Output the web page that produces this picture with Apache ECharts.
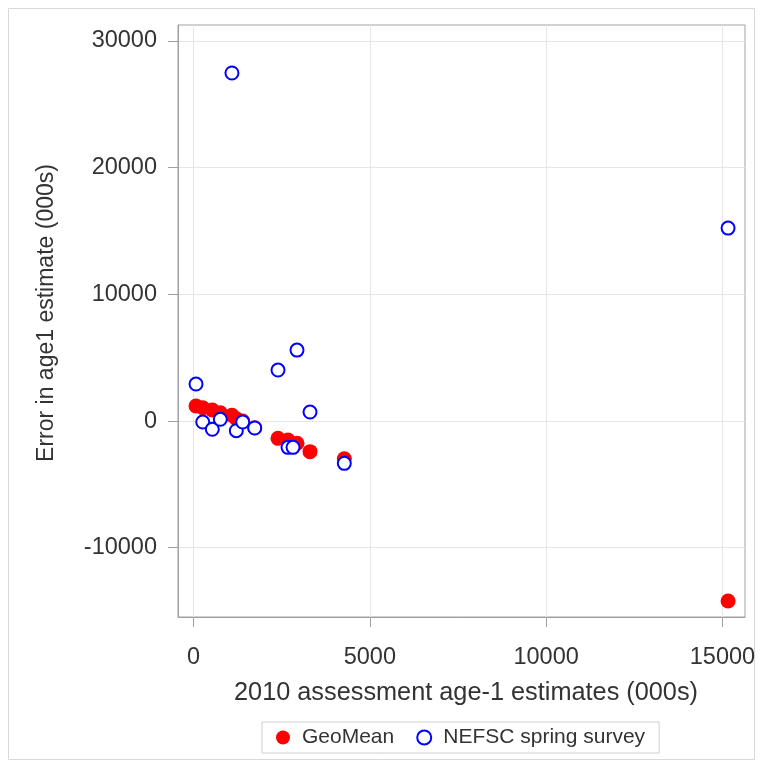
<!DOCTYPE html>
<html>
<head>
<meta charset="utf-8">
<script src="https://cdn.jsdelivr.net/npm/echarts@6/dist/echarts.min.js"></script>
<style>
  html, body { margin: 0; padding: 0; background: #fff; }
  #chart { width: 763px; height: 768px; }
</style>
</head>
<body>
<div id="chart"></div>
<script>
// 2010 assessment age-1 estimates (000s), one per year class
const assessmentAge1 = [71, 262, 533, 760, 1090, 1214, 1395, 1736, 2396, 2680, 2822, 2935, 3304, 4277, 15160];
// Error in age-1 estimate (000s) for each index
const geoMeanError = [1180, 1050, 870, 650, 450, 180, 0, -530, -1370, -1500, -2030, -1760, -2420, -2975, -14207];
const springSurveyError = [2920, -80, -655, 134, 27470, -766, -79, -552, 4025, -2080, -2080, 5600, 710, -3340, 15230];

const seriesNames = ['GeoMean', 'NEFSC spring survey'];
const xTicks = [0, 5000, 10000, 15000];
const yTicks = [-10000, 0, 10000, 20000, 30000];

const pairs = (ys) => assessmentAge1.map((x, i) => [x, ys[i]]);
const plain = (v) => String(v);

const font = 'Liberation Sans, Arial, sans-serif';
const textColor = '#333333';
const frameColor = '#9da1a5';
const gridColor = '#e6e6e6';

const chart = echarts.init(document.getElementById('chart'), null, { renderer: 'canvas' });

chart.setOption({
  animation: false,
  backgroundColor: '#ffffff',
  graphic: [{
    type: 'rect',
    shape: { x: 8.5, y: 8.5, width: 746, height: 751 },
    style: { fill: 'none', stroke: '#d9d9d9', lineWidth: 1 },
    silent: true,
    z: -10
  }],
  grid: {
    left: 178, right: 18, top: 25, bottom: 151,
    show: true, borderColor: frameColor, borderWidth: 1
  },
  xAxis: {
    type: 'value',
    min: -440, max: 15640,
    name: '2010 assessment age-1 estimates (000s)',
    nameLocation: 'middle',
    nameGap: 64,
    nameTextStyle: { fontFamily: font, fontSize: 25.3, color: textColor, padding: [0, 0, 0, 9] },
    axisLine: { show: true, onZero: false, lineStyle: { color: frameColor } },
    axisTick: { show: true, length: 10, customValues: xTicks, lineStyle: { color: frameColor } },
    axisLabel: { customValues: xTicks, formatter: plain, margin: 29, fontFamily: font, fontSize: 23.5, color: textColor },
    splitLine: { show: true, lineStyle: { color: gridColor, width: 1 } }
  },
  yAxis: {
    type: 'value',
    min: -15470, max: 31260,
    name: 'Error in age1 estimate (000s)',
    nameLocation: 'middle',
    nameGap: 120,
    nameTextStyle: { fontFamily: font, fontSize: 23, color: textColor, padding: [0, 0, 0, 16] },
    axisLine: { show: true, onZero: false, lineStyle: { color: frameColor } },
    axisTick: { show: true, length: 10, customValues: yTicks, lineStyle: { color: frameColor } },
    axisLabel: { customValues: yTicks, formatter: plain, margin: 21, fontFamily: font, fontSize: 23.5, color: textColor },
    splitLine: { show: true, lineStyle: { color: gridColor, width: 1 } }
  },
  legend: {
    left: 262, top: 722,
    padding: [5, 14, 5, 14],
    itemGap: 22,
    itemWidth: 14, itemHeight: 14,
    borderColor: '#cfcfcf', borderWidth: 1,
    textStyle: { fontFamily: font, fontSize: 21, color: textColor, padding: [0, 0, 0, 7] },
    data: [
      { name: seriesNames[0], icon: 'circle' },
      { name: seriesNames[1], icon: 'emptyCircle' }
    ]
  },
  series: [
    {
      name: seriesNames[0],
      type: 'scatter',
      symbol: 'circle',
      symbolSize: 15,
      itemStyle: { color: '#ff0000', opacity: 1 },
      data: pairs(geoMeanError),
      z: 2
    },
    {
      name: seriesNames[1],
      type: 'scatter',
      symbol: 'emptyCircle',
      symbolSize: 13,
      itemStyle: { color: '#0000ff', borderColor: '#0000ff', borderWidth: 2, opacity: 1 },
      data: pairs(springSurveyError),
      z: 3
    }
  ]
});
</script>
</body>
</html>
